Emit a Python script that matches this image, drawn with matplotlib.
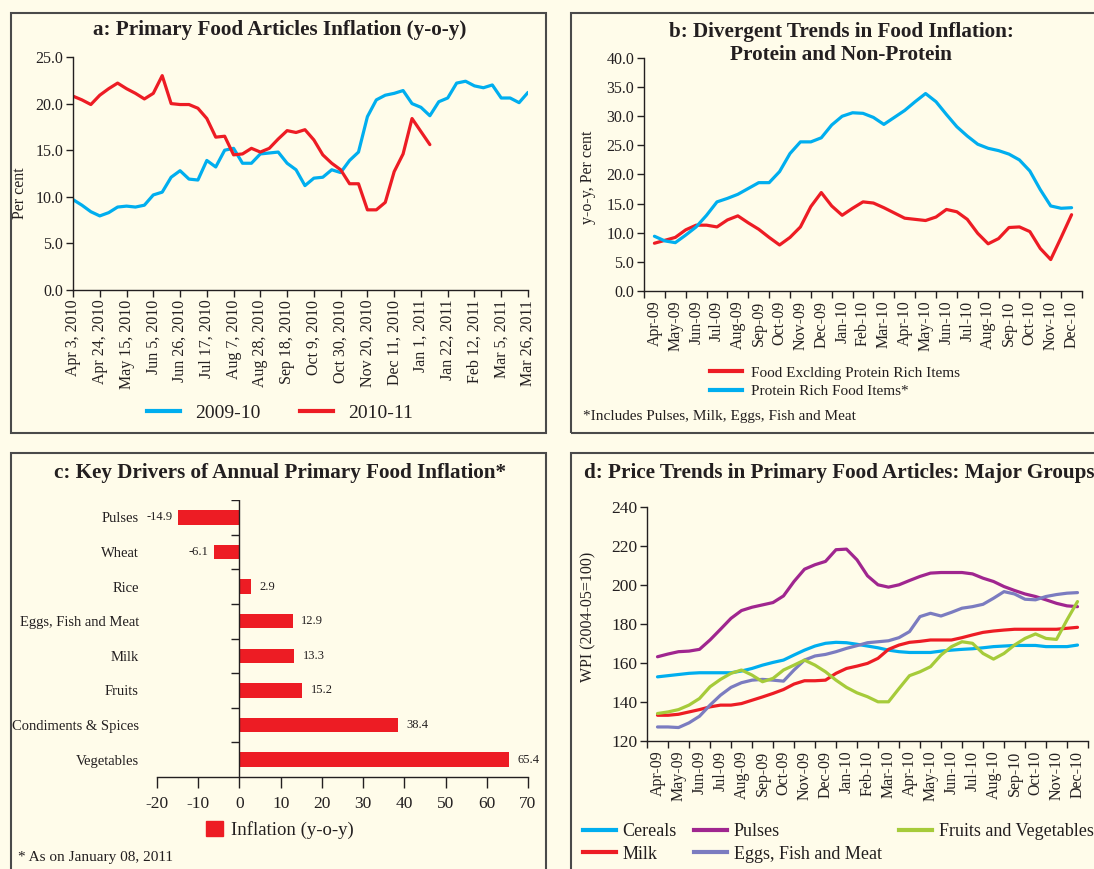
import numpy as np
import matplotlib.pyplot as plt
from matplotlib.patches import Rectangle, Patch
from matplotlib.lines import Line2D

plt.rcParams['font.family'] = ['Liberation Serif', 'DejaVu Serif']
plt.rcParams['text.color'] = '#231f20'
plt.rcParams['axes.edgecolor'] = '#231f20'
plt.rcParams['xtick.color'] = '#231f20'
plt.rcParams['ytick.color'] = '#231f20'
plt.rcParams['axes.unicode_minus'] = False

W, H = 1094, 869
BG = '#fffcea'
BLUE = '#00aeef'
RED = '#ed1c24'
PURPLE = '#a0268f'
SLATE = '#7b7cc0'
GREEN = '#a6cb3a'

# ---- panel a: weekly y-o-y primary food inflation
weeks_a = ['Apr 3, 2010', 'Apr 24, 2010', 'May 15, 2010', 'Jun 5, 2010', 'Jun 26, 2010',
           'Jul 17, 2010', 'Aug 7, 2010', 'Aug 28, 2010', 'Sep 18, 2010', 'Oct 9, 2010',
           'Oct 30, 2010', 'Nov 20, 2010', 'Dec 11, 2010', 'Jan 1, 2011', 'Jan 22, 2011',
           'Feb 12, 2011', 'Mar 5, 2011', 'Mar 26, 2011']
infl_0910 = [9.7, 9.1, 8.4, 7.95, 8.3, 8.9, 9.0, 8.9, 9.1, 10.2, 10.5, 12.1, 12.8, 11.9,
             11.8, 13.9, 13.2, 15.0, 15.2, 13.6, 13.6, 14.6, 14.7, 14.8, 13.6, 12.9, 11.2,
             12.0, 12.1, 12.9, 12.6, 13.9, 14.8, 18.6, 20.4, 20.9, 21.1, 21.4, 20.0, 19.6,
             18.7, 20.2, 20.6, 22.2, 22.4, 21.9, 21.7, 22.0, 20.6, 20.6, 20.1, 21.2]
infl_1011 = [20.8, 20.4, 19.9, 20.9, 21.6, 22.2, 21.6, 21.1, 20.5, 21.1, 23.0, 20.0, 19.9,
             19.9, 19.5, 18.4, 16.4, 16.5, 14.5, 14.6, 15.2, 14.8, 15.2, 16.2, 17.1, 16.9,
             17.2, 16.1, 14.5, 13.6, 12.9, 11.4, 11.4, 8.6, 8.6, 9.4, 12.7, 14.6, 18.4,
             17.0, 15.6]

# ---- panel b / d: monthly categories, read at half-month steps
months = ['Apr-09', 'May-09', 'Jun-09', 'Jul-09', 'Aug-09', 'Sep-09', 'Oct-09', 'Nov-09',
          'Dec-09', 'Jan-10', 'Feb-10', 'Mar-10', 'Apr-10', 'May-10', 'Jun-10', 'Jul-10',
          'Aug-10', 'Sep-10', 'Oct-10', 'Nov-10', 'Dec-10']
protein = [9.4, 8.6, 8.3, 9.6, 11.0, 13.0, 15.3, 15.9, 16.6, 17.6, 18.6, 18.6, 20.5, 23.6,
           25.6, 25.6, 26.3, 28.5, 30.0, 30.6, 30.5, 29.8, 28.6, 29.8, 31.0, 32.5, 33.9,
           32.5, 30.3, 28.2, 26.6, 25.2, 24.5, 24.1, 23.5, 22.5, 20.6, 17.4, 14.6, 14.2, 14.3]
non_protein = [8.2, 8.7, 9.2, 10.5, 11.3, 11.3, 11.0, 12.2, 12.9, 11.7, 10.6, 9.2, 7.9, 9.2,
               11.0, 14.5, 16.9, 14.6, 13.0, 14.2, 15.3, 15.1, 14.3, 13.4, 12.5, 12.3, 12.1,
               12.7, 14.0, 13.6, 12.3, 9.9, 8.1, 9.0, 10.9, 11.0, 10.2, 7.3, 5.4, 9.2, 13.1]

cereals = [152.9, 153.5, 154.1, 154.7, 155.0, 155.0, 155.0, 155.0, 155.9, 157.2, 158.9,
           160.3, 161.5, 164.1, 166.6, 168.7, 170.1, 170.6, 170.4, 169.6, 168.7, 167.8,
           166.6, 165.8, 165.4, 165.4, 165.4, 166.1, 166.6, 167.0, 167.3, 167.8, 168.4,
           168.7, 169.0, 169.0, 169.0, 168.4, 168.4, 168.4, 169.2]
pulses = [163.2, 164.6, 165.8, 166.1, 167.0, 171.8, 177.3, 182.9, 186.9, 188.6, 189.8,
          191.0, 194.4, 201.8, 208.1, 210.4, 212.1, 218.1, 218.4, 212.9, 204.7, 200.1,
          198.9, 200.1, 202.3, 204.4, 206.1, 206.4, 206.4, 206.4, 205.7, 203.5, 201.8,
          199.2, 197.2, 195.4, 194.1, 192.4, 190.6, 189.3, 188.9]
milk = [133.2, 133.2, 133.7, 134.9, 136.1, 137.5, 138.4, 138.4, 139.2, 140.9, 142.6, 144.4,
        146.4, 149.2, 150.9, 150.9, 151.2, 154.7, 157.2, 158.4, 159.8, 162.4, 167.0, 169.2,
        170.6, 171.1, 171.8, 171.8, 171.8, 173.0, 174.4, 175.7, 176.4, 176.9, 177.3, 177.3,
        177.3, 177.3, 177.3, 177.8, 178.3]
eggs_fish_meat = [127.2, 127.2, 126.9, 129.3, 132.7, 138.4, 143.5, 147.5, 149.9, 151.2,
                  151.6, 151.2, 150.7, 156.4, 161.5, 163.6, 164.4, 165.8, 167.5, 168.9,
                  170.4, 170.9, 171.4, 173.0, 176.1, 183.8, 185.5, 184.1, 186.0, 188.1,
                  188.9, 190.1, 193.2, 196.6, 195.4, 192.7, 192.4, 194.1, 195.1, 195.8, 196.1]
fruits_veg = [134.1, 134.9, 136.1, 138.4, 141.8, 147.8, 151.6, 154.7, 156.4, 153.8, 150.4,
              152.1, 156.4, 158.9, 161.5, 158.9, 155.5, 151.2, 147.5, 144.7, 142.7, 140.1,
              140.1, 146.9, 153.5, 155.5, 158.1, 164.1, 168.4, 170.9, 170.1, 164.9, 162.0,
              164.9, 169.2, 172.6, 174.9, 172.6, 172.1, 182.1, 191.5]

# ---- panel c: key drivers
groups = ['Pulses', 'Wheat', 'Rice', 'Eggs, Fish and Meat', 'Milk', 'Fruits',
          'Condiments & Spices', 'Vegetables']
drivers = [-14.9, -6.1, 2.9, 12.9, 13.3, 15.2, 38.4, 65.4]


def rect(l, t, r, b):
    return [l / W, 1 - b / H, (r - l) / W, (b - t) / H]


def fx(x):
    return x / W


def fy(y):
    return 1 - y / H


def style(ax):
    ax.set_facecolor('none')
    for s in ['top', 'right']:
        ax.spines[s].set_visible(False)
    for s in ['left', 'bottom']:
        ax.spines[s].set_linewidth(1.0)
    ax.tick_params(which='both', direction='out', width=1.0, length=5, labelsize=11.5, pad=2)


fig = plt.figure(figsize=(W / 100, H / 100), dpi=100, facecolor=BG)

# panel boxes
for (l, t, r, b) in [(11, 13, 546, 433), (571, 13, 1110, 433),
                     (11, 453, 546, 890), (571, 453, 1110, 890)]:
    fig.patches.append(Rectangle((fx(l), fy(b)), fx(r - l), (b - t) / H, transform=fig.transFigure,
                                 facecolor='none', edgecolor='#4a4a4a', linewidth=1.5))

title_kw = dict(fontsize=15.2, fontweight='bold', ha='center', va='center')
lw = 2.3

# ---------------- panel a
ax = fig.add_axes(rect(73, 57, 528, 290))
style(ax)
x_a = np.arange(len(infl_0910))
ax.plot(x_a, infl_0910, color=BLUE, lw=lw, solid_capstyle='round')
ax.plot(np.arange(len(infl_1011)), infl_1011, color=RED, lw=lw, solid_capstyle='round')
ax.set_xlim(0, 51)
ax.set_ylim(0, 25)
ax.set_xticks(np.arange(0, 52, 3))
ax.set_xticklabels(weeks_a, rotation=90)
ax.set_yticks(np.arange(0, 26, 5))
ax.set_yticklabels(['%.1f' % v for v in np.arange(0, 26, 5)])
fig.text(fx(280), fy(30), 'a: Primary Food Articles Inflation (y-o-y)', **title_kw)
fig.text(fx(20), fy(193), 'Per cent', rotation=90, ha='center', va='center', fontsize=11.5)
fig.legend(handles=[Line2D([], [], color=BLUE, lw=3), Line2D([], [], color=RED, lw=3)],
           labels=['2009-10', '2010-11'], ncol=2, loc='center',
           bbox_to_anchor=(fx(280), fy(413)), frameon=False, fontsize=14,
           handlelength=1.7, handletextpad=0.8, columnspacing=2.0, borderpad=0)

# ---------------- panel b
ax = fig.add_axes(rect(644, 58, 1082, 291))
style(ax)
xb = np.arange(len(protein)) / 2
ax.plot(xb, non_protein, color=RED, lw=lw, solid_capstyle='round')
ax.plot(xb, protein, color=BLUE, lw=lw, solid_capstyle='round')
ax.set_xlim(-0.5, 20.5)
ax.set_ylim(0, 40)
ax.set_xticks(np.arange(-0.5, 21, 1))
ax.set_xticklabels([])
ax.set_xticks(np.arange(21), minor=True)
ax.set_xticklabels(months, minor=True, rotation=90)
ax.tick_params(axis='x', which='minor', length=0, pad=7)
ax.set_yticks(np.arange(0, 41, 5))
ax.set_yticklabels(['%.1f' % v for v in np.arange(0, 41, 5)])
fig.text(fx(841), fy(32), 'b: Divergent Trends in Food Inflation:', **title_kw)
fig.text(fx(841), fy(55), 'Protein and Non-Protein', **title_kw)
fig.text(fx(588), fy(177), 'y-o-y, Per cent', rotation=90, ha='center', va='center', fontsize=11.5)
fig.legend(handles=[Line2D([], [], color=RED, lw=3), Line2D([], [], color=BLUE, lw=3)],
           labels=['Food Exclding Protein Rich Items', 'Protein Rich Food Items*'],
           loc='center left', bbox_to_anchor=(fx(710), fy(382)), frameon=False, fontsize=11,
           handlelength=2.1, handletextpad=0.6, labelspacing=0.3, borderpad=0, borderaxespad=0)
fig.text(fx(583), fy(417), '*Includes Pulses, Milk, Eggs, Fish and Meat', ha='left',
         va='center', fontsize=11)

# ---------------- panel c
ax = fig.add_axes(rect(157, 500, 528, 777))
style(ax)
ax.spines['left'].set_visible(False)
yc = np.arange(len(groups))
ax.barh(yc, drivers, height=0.42, color=RED)
ax.set_xlim(-20, 70)
ax.set_ylim(len(groups) - 0.5, -0.5)
ax.set_xticks(np.arange(-20, 71, 10))
ax.tick_params(axis='x', length=8, labelsize=12.5, pad=6)
ax.set_yticks(yc)
ax.set_yticklabels(groups, fontsize=10.5)
ax.tick_params(axis='y', length=0, pad=13)
ax.axvline(0, color='#231f20', lw=1.0)
ax.hlines(np.arange(-0.5, len(groups) - 0.5), -2, 0, color='#231f20', lw=1.0)
for yv, v in zip(yc, drivers):
    if v < 0:
        ax.annotate('%.1f' % v, (v, yv), xytext=(-4, 0), textcoords='offset points',
                    ha='right', va='center', fontsize=9)
    else:
        ax.annotate('%.1f' % v, (v, yv), xytext=(6, 0), textcoords='offset points',
                    ha='left', va='center', fontsize=9)
fig.text(fx(280), fy(473), 'c: Key Drivers of Annual Primary Food Inflation*', **title_kw)
fig.legend(handles=[Patch(color=RED)], labels=['Inflation (y-o-y)'], loc='center',
           bbox_to_anchor=(fx(280), fy(830)), frameon=False, fontsize=13.5,
           handlelength=0.9, handleheight=0.9, handletextpad=0.4, borderpad=0)
fig.text(fx(18), fy(857), '* As on January 08, 2011', ha='left', va='center', fontsize=11)

# ---------------- panel d
ax = fig.add_axes(rect(647, 507, 1088, 741))
style(ax)
xd = np.arange(len(cereals)) / 2
series_d = [(cereals, BLUE, 'Cereals'), (milk, RED, 'Milk'), (pulses, PURPLE, 'Pulses'),
            (eggs_fish_meat, SLATE, 'Eggs, Fish and Meat'),
            (fruits_veg, GREEN, 'Fruits and Vegetables')]
for vals, c, name in series_d:
    ax.plot(xd, vals, color=c, lw=lw, label=name, solid_capstyle='round')
ax.set_xlim(-0.5, 20.5)
ax.set_ylim(120, 240)
ax.set_xticks(np.arange(-0.5, 21, 1))
ax.set_xticklabels([])
ax.set_xticks(np.arange(21), minor=True)
ax.set_xticklabels(months, minor=True, rotation=90)
ax.tick_params(axis='x', which='minor', length=0, pad=7)
ax.set_yticks(np.arange(120, 241, 20))
ax.tick_params(axis='y', labelsize=12.5)
fig.text(fx(839), fy(473), 'd: Price Trends in Primary Food Articles: Major Groups', **title_kw)
fig.text(fx(588), fy(617), 'WPI (2004-05=100)', rotation=90, ha='center', va='center',
         fontsize=11.5)
h = [Line2D([], [], color=c, lw=3) for _, c, _ in series_d]
fig.legend(handles=h, labels=[n for _, _, n in series_d], ncol=3, loc='center left',
           bbox_to_anchor=(fx(583), fy(843)), frameon=False, fontsize=13,
           handlelength=1.8, handletextpad=0.4, columnspacing=0.95, labelspacing=0.3,
           borderpad=0, borderaxespad=0)

fig.savefig('out.png', dpi=100, facecolor=BG)
